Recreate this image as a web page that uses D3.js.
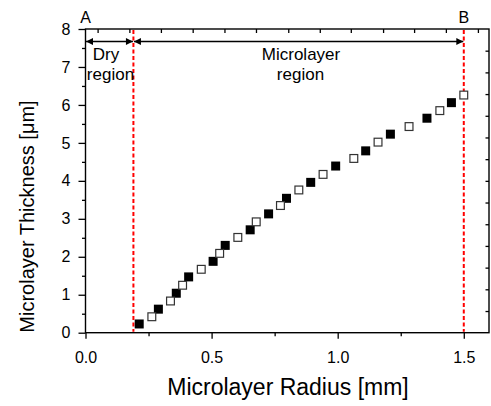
<!DOCTYPE html>
<html lang="en">
<head>
  <meta charset="UTF-8" />
  <title>Microlayer thickness vs radius</title>
  <script src="https://d3js.org/d3.v7.min.js"></script>
  <style>
    body {
      margin: 0;
      background: #fff;
    }
    svg {
      display: block;
      font-family: Arial, "Liberation Sans", sans-serif;
    }
    .tick-label {
      font-size: 16px;
    }
  </style>
</head>
<body>
  <svg id="chart" width="491" height="406"></svg>

  <script>
    // filled squares
    const filledRadius = [0.213, 0.289, 0.36, 0.409, 0.506, 0.554, 0.653, 0.726, 0.797, 0.893, 0.992, 1.111, 1.209, 1.354, 1.451];
    const filledThick  = [0.23, 0.62, 1.04, 1.47, 1.88, 2.30, 2.71, 3.13, 3.54, 3.96, 4.39, 4.79, 5.23, 5.65, 6.06];
    // open squares
    const openRadius = [0.263, 0.337, 0.385, 0.459, 0.532, 0.604, 0.677, 0.773, 0.846, 0.942, 1.064, 1.160, 1.283, 1.405, 1.50];
    const openThick  = [0.42, 0.835, 1.25, 1.67, 2.09, 2.51, 2.92, 3.35, 3.76, 4.17, 4.59, 5.02, 5.43, 5.85, 6.26];

    const xTicks = [0, 0.5, 1.0, 1.5];
    const xTickLabels = ["0.0", "0.5", "1.0", "1.5"];
    const xMinor = [0.25, 0.75, 1.25];
    const yTicks = [0, 1, 2, 3, 4, 5, 6, 7, 8];
    const yMinor = [0.5, 1.5, 2.5, 3.5, 4.5, 5.5, 6.5, 7.5];
    // mirror ticks on the top and right frame (they do not follow the main scales)
    const topTicks = [0.048, 0.174, 0.299, 0.425, 0.551, 0.676, 0.804, 0.929, 1.052, 1.180, 1.303, 1.429, 1.556];
    const rightTicks = [0.571, 1.143, 1.714, 2.286, 2.857, 3.429, 4.0, 4.571, 5.143, 5.714, 6.286, 6.857, 7.429];

    const dryEdge = 0.19, outerEdge = 1.5, arrowY = 7.67;

    const svg = d3.select("#chart");
    const margin = { top: 29, right: 2, bottom: 73.3, left: 85.5 };
    const W = 491, H = 406;

    const x = d3.scaleLinear().domain([0, 1.6]).range([margin.left, W - margin.right]);
    const y = d3.scaleLinear().domain([0, 8]).range([H - margin.bottom, margin.top]);

    const x0 = x(0), x1 = x(1.6), y0 = y(0), y1 = y(8);

    // ---- axes ----
    svg.append("g")
      .attr("transform", `translate(0,${y0})`)
      .call(d3.axisBottom(x).tickValues(xTicks).tickFormat((d, i) => xTickLabels[i]).tickSize(6).tickPadding(13))
      .call(g => g.select(".domain").remove())
      .call(g => g.selectAll("line").attr("stroke", "#000").attr("stroke-width", 1.3))
      .call(g => g.selectAll("text").attr("class", "tick-label").attr("fill", "#000"));

    svg.append("g")
      .attr("transform", `translate(0,${y0})`)
      .call(d3.axisBottom(x).tickValues(xMinor).tickFormat("").tickSize(3.5))
      .call(g => g.select(".domain").remove())
      .call(g => g.selectAll("line").attr("stroke", "#000").attr("stroke-width", 1.3));

    svg.append("g")
      .attr("transform", `translate(${x0},0)`)
      .call(d3.axisLeft(y).tickValues(yTicks).tickFormat(d3.format("d")).tickSize(7).tickPadding(8))
      .call(g => g.select(".domain").remove())
      .call(g => g.selectAll("line").attr("stroke", "#000").attr("stroke-width", 1.3))
      .call(g => g.selectAll("text").attr("class", "tick-label").attr("fill", "#000"));

    svg.append("g")
      .attr("transform", `translate(${x0},0)`)
      .call(d3.axisLeft(y).tickValues(yMinor).tickFormat("").tickSize(3.5))
      .call(g => g.select(".domain").remove())
      .call(g => g.selectAll("line").attr("stroke", "#000").attr("stroke-width", 1.3));

    // top and right inward ticks
    svg.append("g")
      .attr("transform", `translate(0,${y1})`)
      .call(d3.axisBottom(x).tickValues(topTicks).tickFormat("").tickSize(4))
      .call(g => g.select(".domain").remove())
      .call(g => g.selectAll("line").attr("stroke", "#000").attr("stroke-width", 1.3));

    svg.append("g")
      .attr("transform", `translate(${x1},0)`)
      .call(d3.axisLeft(y).tickValues(rightTicks).tickFormat("").tickSize(3.5))
      .call(g => g.select(".domain").remove())
      .call(g => g.selectAll("line").attr("stroke", "#000").attr("stroke-width", 1.3));

    // frame
    svg.append("rect")
      .attr("x", x0).attr("y", y1)
      .attr("width", x1 - x0).attr("height", y0 - y1)
      .attr("fill", "none").attr("stroke", "#000").attr("stroke-width", 1.4);

    // ---- red dashed boundaries ----
    svg.selectAll(".edge")
      .data([dryEdge, outerEdge])
      .join("line")
      .attr("x1", d => x(d)).attr("x2", d => x(d))
      .attr("y1", y1 + 1).attr("y2", y0 - 1)
      .attr("stroke", "#ff0000").attr("stroke-width", 2)
      .attr("stroke-dasharray", "4,2.5");

    // ---- arrows ----
    const defs = svg.append("defs");
    defs.append("marker")
      .attr("id", "head")
      .attr("viewBox", "0 0 10 10")
      .attr("refX", 10).attr("refY", 5)
      .attr("markerUnits", "userSpaceOnUse")
      .attr("markerWidth", 8).attr("markerHeight", 7)
      .attr("orient", "auto-start-reverse")
      .append("path")
      .attr("d", "M0,0 L10,5 L0,10 Z")
      .attr("fill", "#000");

    const spans = [[0, dryEdge], [dryEdge, outerEdge]];
    svg.selectAll(".span")
      .data(spans)
      .join("line")
      .attr("x1", d => x(d[0]) + 0.5).attr("x2", d => x(d[1]) - 0.5)
      .attr("y1", y(arrowY)).attr("y2", y(arrowY))
      .attr("stroke", "#000").attr("stroke-width", 1.4)
      .attr("marker-start", "url(#head)")
      .attr("marker-end", "url(#head)");

    // ---- data ----
    const sq = 9;
    const filled = filledRadius.map((r, i) => ({ r, t: filledThick[i] }));
    const open = openRadius.map((r, i) => ({ r, t: openThick[i] }));

    svg.selectAll(".filled")
      .data(filled)
      .join("rect")
      .attr("x", d => x(d.r) - sq / 2).attr("y", d => y(d.t) - sq / 2)
      .attr("width", sq).attr("height", sq)
      .attr("fill", "#000");

    svg.selectAll(".open")
      .data(open)
      .join("rect")
      .attr("x", d => x(d.r) - (sq - 1.2) / 2).attr("y", d => y(d.t) - (sq - 1.2) / 2)
      .attr("width", sq - 1.2).attr("height", sq - 1.2)
      .attr("fill", "#fff").attr("stroke", "#333").attr("stroke-width", 1.2);

    // ---- annotation text ----
    svg.append("text").attr("x", x(0)).attr("y", 23.3).attr("text-anchor", "middle")
      .attr("font-size", 16).text("A");
    svg.append("text").attr("x", x(outerEdge)).attr("y", 23.3).attr("text-anchor", "middle")
      .attr("font-size", 16).text("B");

    const labels = [
      { t: "Dry", cx: 106, by: 59.5 },
      { t: "region", cx: 110.5, by: 80 },
      { t: "Microlayer", cx: 301, by: 59.5 },
      { t: "region", cx: 300.5, by: 80 }
    ];
    svg.selectAll(".note")
      .data(labels)
      .join("text")
      .attr("x", d => d.cx).attr("y", d => d.by)
      .attr("text-anchor", "middle")
      .attr("font-size", 17)
      .text(d => d.t);

    // axis titles
    svg.append("text")
      .attr("x", 288).attr("y", 395)
      .attr("text-anchor", "middle").attr("font-size", 23)
      .text("Microlayer Radius [mm]");

    svg.append("text")
      .attr("transform", `translate(34,${216.5}) rotate(-90)`)
      .attr("text-anchor", "middle").attr("font-size", 20)
      .text("Microlayer Thickness [μm]");
  </script>
</body>
</html>
